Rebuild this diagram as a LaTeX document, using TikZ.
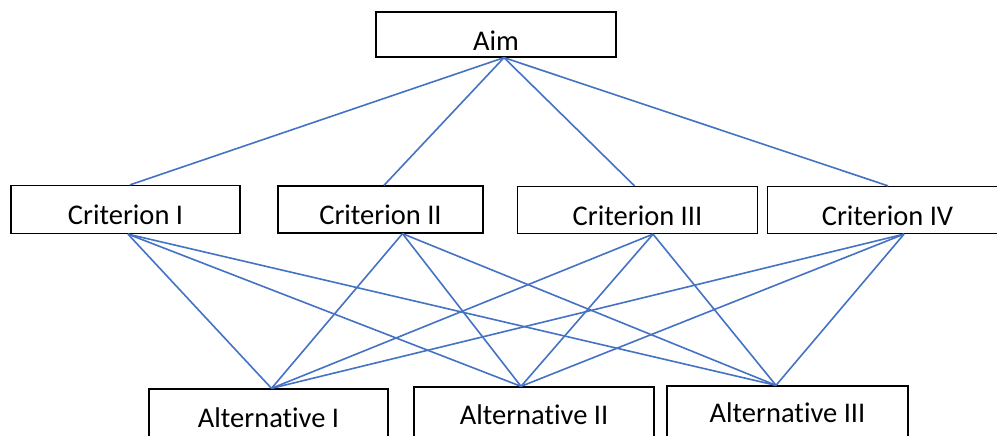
\documentclass[tikz,border=0pt]{standalone}
\usepackage{fontspec}
\setmainfont{Carlito}[Ligatures=NoCommon]
\usepackage{tikz}
\usetikzlibrary{positioning}
\definecolor{lineblue}{HTML}{4472C4}

\tikzset{
  block/.style={draw=black, line width=1.3pt, inner sep=0pt, minimum height=47,
    text height=30pt, text depth=0pt, font=\fontsize{28.5}{34}\selectfont},
  wire/.style={lineblue, line width=1.6pt}
}

\begin{document}
\begin{tikzpicture}[x=1pt,y=-1pt]
\useasboundingbox (0,0) rectangle (997,436);
\clip (0,0) rectangle (997,436);
\fill[white] (0,0) rectangle (997,436);

% boxes
\node[block, minimum width=240, minimum height=45, text height=33pt] (aim) at (496,34.5) {Aim};
\node[block, minimum width=229, minimum height=48] (crit1) at (125.5,209.5) {Criterion I};
\node[block, minimum width=205] (crit2) at (380.5,209.5) {Criterion II};
\node[block, minimum width=240] (crit3) at (637.5,210) {Criterion III};
\node[block, minimum width=240] (crit4) at (887.5,210) {Criterion IV};
\node[block, minimum width=239, minimum height=60, text height=16pt] (alt1) at (268.5,419) {Alternative I};
\node[block, minimum width=240, minimum height=60, text height=14pt] (alt2) at (534,417) {Alternative II};
\node[block, minimum width=241, minimum height=60, text height=13.5pt] (alt3) at (787.5,416) {Alternative III};

% attach points
\coordinate (aimB) at ([xshift=8]aim.south);
\coordinate (c1T) at ([xshift=4.5]crit1.north);
\coordinate (c2T) at ([xshift=3.5]crit2.north);
\coordinate (c3T) at ([xshift=-3]crit3.north);
\coordinate (c4T) at ([xshift=0.5]crit4.north);
\coordinate (c1B) at ([xshift=2.5]crit1.south);
\coordinate (c2B) at ([xshift=22]crit2.south);
\coordinate (c3B) at ([xshift=15.5]crit3.south);
\coordinate (c4B) at ([xshift=16.5]crit4.south);
\coordinate (a1T) at ([xshift=3]alt1.north);
\coordinate (a2T) at ([xshift=-13]alt2.north);
\coordinate (a3T) at ([xshift=-11.5]alt3.north);

% aim to criteria
\draw[wire] (aimB) -- (c1T);
\draw[wire] (aimB) -- (c2T);
\draw[wire] (aimB) -- (c3T);
\draw[wire] (aimB) -- (c4T);

% criteria to alternatives
\draw[wire] (c1B) -- (a1T);
\draw[wire] (c1B) -- (a2T);
\draw[wire] (c1B) -- (a3T);
\draw[wire] (c2B) -- (a1T);
\draw[wire] (c2B) -- (a2T);
\draw[wire] (c2B) -- (a3T);
\draw[wire] (c3B) -- (a1T);
\draw[wire] (c3B) -- (a2T);
\draw[wire] (c3B) -- (a3T);
\draw[wire] (c4B) -- (a1T);
\draw[wire] (c4B) -- (a2T);
\draw[wire] (c4B) -- (a3T);
\end{tikzpicture}
\end{document}
